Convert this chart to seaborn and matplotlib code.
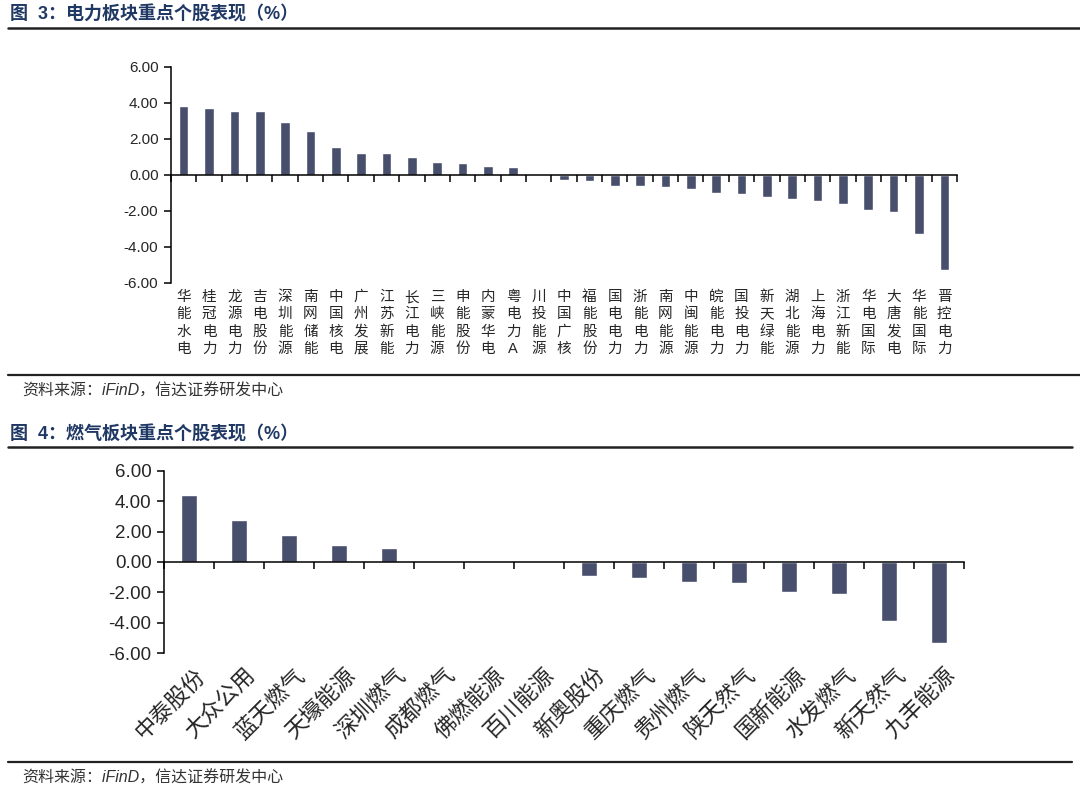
import numpy as np
import pandas as pd
import matplotlib
matplotlib.use("Agg")
import matplotlib.pyplot as plt
import matplotlib.transforms as mtransforms
from matplotlib.lines import Line2D
from matplotlib.ticker import FormatStrFormatter
import seaborn as sns

# ---------------------------------------------------------------------------
# Data (% change)
# ---------------------------------------------------------------------------

POWER_NAMES = [
    "华能水电", "桂冠电力", "龙源电力", "吉电股份", "深圳能源", "南网储能",
    "中国核电", "广州发展", "江苏新能", "长江电力", "三峡能源", "申能股份",
    "内蒙华电", "粤电力A", "川投能源", "中国广核", "福能股份", "国电电力",
    "浙能电力", "南网能源", "中闽能源", "皖能电力", "国投电力", "新天绿能",
    "湖北能源", "上海电力", "浙江新能", "华电国际", "大唐发电", "华能国际",
    "晋控电力",
]
POWER_VALUES = [
    3.83, 3.70, 3.57, 3.54, 2.96, 2.45,
    1.55, 1.20, 1.20, 0.99, 0.70, 0.66,
    0.50, 0.46, -0.02, -0.28, -0.31, -0.59,
    -0.59, -0.64, -0.77, -0.99, -1.05, -1.20,
    -1.33, -1.44, -1.60, -1.93, -2.03, -3.26,
    -5.30,
]

GAS_NAMES = [
    "中泰股份", "大众公用", "蓝天燃气", "天壕能源", "深圳燃气", "成都燃气",
    "佛燃能源", "百川能源", "新奥股份", "重庆燃气", "贵州燃气", "陕天然气",
    "国新能源", "水发燃气", "新天然气", "九丰能源",
]
GAS_VALUES = [
    4.41, 2.79, 1.78, 1.10, 0.90, 0.07,
    0.0, 0.0, -0.94, -1.07, -1.32, -1.36,
    -2.00, -2.08, -3.88, -5.33,
]

Y_TICKS = [-6, -4, -2, 0, 2, 4, 6]

TITLE_3 = "图  3：电力板块重点个股表现（%）"
TITLE_4 = "图  4：燃气板块重点个股表现（%）"
SOURCE = "资料来源：iFinD，信达证券研发中心"

BAR_COLOR = "#474F6C"
TITLE_COLOR = "#1F3864"

W, H = 1080, 786

sns.set_style("white")
plt.rcParams["font.family"] = ["Liberation Sans", "Noto Sans CJK SC", "DejaVu Sans"]


def px_axes(fig, left, top, right, bottom):
    return fig.add_axes([left / W, 1 - bottom / H, (right - left) / W, (bottom - top) / H])


def px_line(fig, x0, x1, y, lw=1.6):
    fig.add_artist(Line2D([x0 / W, x1 / W], [1 - y / H, 1 - y / H],
                          transform=fig.transFigure, color="#222222", lw=lw))


def draw_panel(ax, names, values, bar_width, ytick_size):
    df = pd.DataFrame({"name": names, "value": values})
    sns.barplot(data=df, x="name", y="value", color=BAR_COLOR, saturation=1,
                width=bar_width, ax=ax)
    n = len(names)
    ax.set_xlim(-0.5, n - 0.5)
    ax.set_ylim(-6, 6)
    ax.set_yticks(Y_TICKS)
    ax.yaxis.set_major_formatter(FormatStrFormatter("%.2f"))
    # category boundaries carry the x ticks, as in the source chart
    ax.set_xticks(np.arange(n + 1) - 0.5)
    ax.set_xticklabels([])
    ax.set_xlabel("")
    ax.set_ylabel("")
    ax.set_facecolor("white")
    ax.spines[["top", "right"]].set_visible(False)
    ax.spines["bottom"].set_position(("data", 0))
    for side in ("left", "bottom"):
        ax.spines[side].set_color("black")
        ax.spines[side].set_linewidth(1.1)
    ax.tick_params(axis="x", bottom=True, direction="out", length=5, width=1.1,
                   color="black")
    ax.tick_params(axis="y", left=True, direction="out", length=5, width=1.1,
                   color="black", labelsize=ytick_size, pad=4)


fig = plt.figure(figsize=(W / 100, H / 100), dpi=100)

# ---- figure 3: power ------------------------------------------------------
fig.text(10 / W, 1 - 15 / H, TITLE_3, fontsize=13, fontweight="bold",
         color=TITLE_COLOR, va="center", ha="left")
px_line(fig, 8, W, 28, lw=1.8)

ax1 = px_axes(fig, 171, 67, 957, 283)
draw_panel(ax1, POWER_NAMES, POWER_VALUES, 0.38, 11)
lab_tr = mtransforms.offset_copy(ax1.get_xaxis_transform(), fig=fig, y=-7, units="dots")
for i, name in enumerate(POWER_NAMES):
    ax1.text(i, 0, "\n".join(name), transform=lab_tr, ha="center", va="top",
             fontsize=10.5, linespacing=1.3)

px_line(fig, 8, W, 375, lw=1.6)
fig.text(22 / W, 1 - 391 / H, SOURCE, fontsize=11.5, style="italic",
         color="#333333", va="center", ha="left")

# ---- figure 4: gas --------------------------------------------------------
fig.text(10 / W, 1 - 435 / H, TITLE_4, fontsize=13, fontweight="bold",
         color=TITLE_COLOR, va="center", ha="left")
px_line(fig, 8, 1072, 447, lw=1.8)

ax2 = px_axes(fig, 164, 471, 964, 653)
draw_panel(ax2, GAS_NAMES, GAS_VALUES, 0.32, 13.5)
lab_tr2 = mtransforms.offset_copy(ax2.get_xaxis_transform(), fig=fig, x=6, y=-12, units="dots")
for i, name in enumerate(GAS_NAMES):
    ax2.text(i, 0, name, transform=lab_tr2, ha="right", va="top", rotation=45,
             rotation_mode="anchor", fontsize=16)

px_line(fig, 8, 1072, 762, lw=1.6)
fig.text(22 / W, 1 - 778 / H, SOURCE, fontsize=11.5, style="italic",
         color="#333333", va="center", ha="left")

fig.savefig("out.png", dpi=100, facecolor="white")
